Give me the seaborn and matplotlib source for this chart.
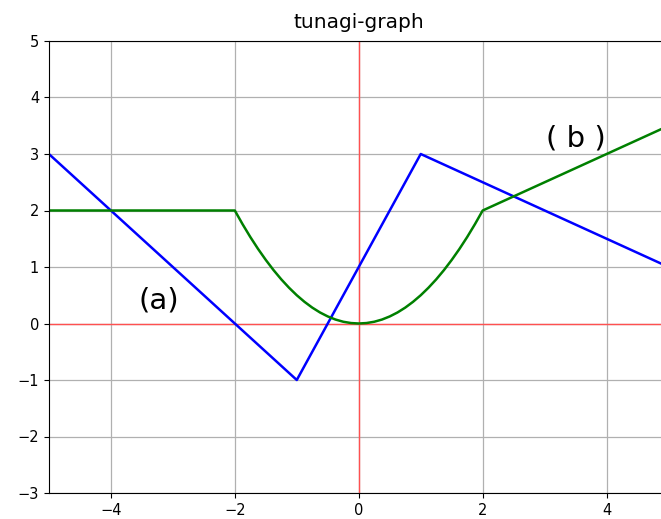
import matplotlib
matplotlib.use("Agg")
import matplotlib.pyplot as plt
import seaborn as sns
import pandas as pd

# Data
blue_x = [-5, -1, 1, 5]
blue_y = [3, -1, 3, 1]

green_x = [-5, -2, -1.875, -1.75, -1.625, -1.5, -1.375, -1.25, -1.125, -1,
           -0.875, -0.75, -0.625, -0.5, -0.375, -0.25, -0.125, 0,
           0.125, 0.25, 0.375, 0.5, 0.625, 0.75, 0.875, 1,
           1.125, 1.25, 1.375, 1.5, 1.625, 1.75, 1.875, 2, 5]
green_y = [2, 2, 1.758, 1.531, 1.320, 1.125, 0.945, 0.781, 0.633, 0.5,
           0.383, 0.281, 0.195, 0.125, 0.070, 0.031, 0.008, 0,
           0.008, 0.031, 0.070, 0.125, 0.195, 0.281, 0.383, 0.5,
           0.633, 0.781, 0.945, 1.125, 1.320, 1.531, 1.758, 2, 3.5]

labels = ["(a)", "( b )"]
label_x = [-3.55, 3.02]
label_y = [0.27, 3.14]

title = "tunagi-graph"

blue_df = pd.DataFrame({"x": blue_x, "y": blue_y})
green_df = pd.DataFrame({"x": green_x, "y": green_y})

fig = plt.figure(figsize=(6.61, 5.19), dpi=100)
ax = fig.add_axes([48.9 / 661, (519 - 493) / 519, (668.6 - 48.9) / 661, (493 - 41) / 519])

ax.grid(True, color="#b0b0b0", linewidth=0.9)
ax.set_axisbelow(True)
ax.axhline(0, color="#ff5050", linewidth=1.0, zorder=1.5)
ax.axvline(0, color="#ff5050", linewidth=1.0, zorder=1.5)

sns.lineplot(data=blue_df, x="x", y="y", sort=False, color="blue", linewidth=1.8, ax=ax, zorder=2)
sns.lineplot(data=green_df, x="x", y="y", sort=False, color="green", linewidth=1.8, ax=ax, zorder=2)

for t, lx, ly in zip(labels, label_x, label_y):
    ax.text(lx, ly, t, fontsize=21, family=["DejaVu Sans"])

ax.set_xlim(-5, 5)
ax.set_ylim(-3, 5)
ax.set_xlabel("")
ax.set_ylabel("")
ax.tick_params(labelsize=10.5)
ax.set_title(title, fontsize=14.5, pad=9)

fig.savefig("out.png", dpi=100)
